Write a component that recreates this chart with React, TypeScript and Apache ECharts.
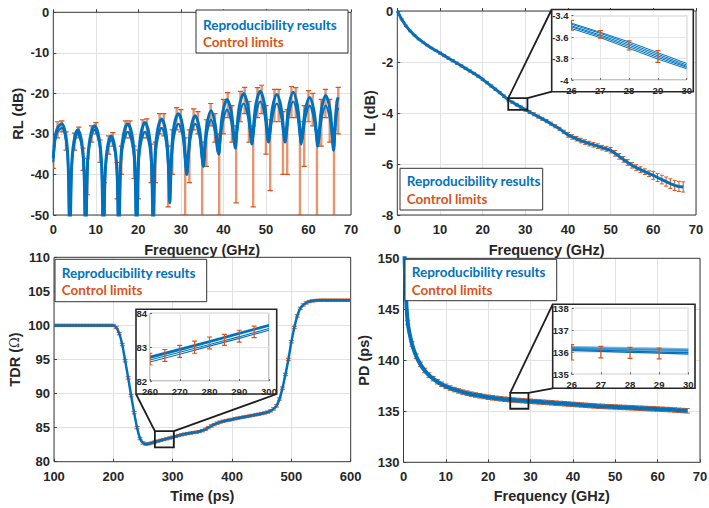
import React, { useEffect, useRef } from "react";
import * as echarts from "echarts";

const BLUE = "#0072BD";
const ORANGE = "#D95319";
const FONT = "Liberation Sans";
const LEG_FONT = "Lato";
const W = 709;
const H = 508;

// ---------------- RL (return loss) ----------------
const rlFreq = [0, 0.4, 1, 2, 2.95, 3.5, 3.9,
  4.27, 4.83, 5.75, 6.68, 7.23, 7.6,
  8.02, 8.65, 9.7, 10.75, 11.38, 11.8,
  12.16, 12.7, 13.6, 14.5, 15.04, 15.4,
  15.82, 16.45, 17.5, 18.55, 19.18, 19.6,
  19.99, 20.58, 21.55, 22.53, 23.11, 23.5,
  23.89, 24.48, 25.45, 26.43, 27.01, 27.4,
  27.8, 28.4, 29.4, 30.4, 31, 31.4,
  31.79, 32.38, 33.35, 34.33, 34.91, 35.3,
  35.66, 36.2, 37.1, 38, 38.54, 38.9,
  39.29, 39.88, 40.85, 41.83, 42.41, 42.8,
  43.19, 43.78, 44.75, 45.73, 46.31, 46.7,
  47.09, 47.68, 48.65, 49.63, 50.21, 50.6,
  50.99, 51.58, 52.55, 53.53, 54.11, 54.5,
  54.88, 55.45, 56.4, 57.35, 57.92, 58.3,
  58.69, 59.28, 60.25, 61.23, 61.81, 62.2,
  62.57, 63.13, 64.05, 64.98, 65.53, 65.9,
  66.3, 66.7, 67];
const rlVal = [-36, -31, -28.5, -27.5, -30.5, -37.5, -60,
  -39, -32, -29, -32, -39, -60,
  -38, -31, -28, -31, -38, -60,
  -40.5, -33.5, -30.5, -33.5, -40.5, -60,
  -37.5, -30.5, -27.5, -30.5, -37.5, -58,
  -37.2, -30.2, -27.2, -30.2, -37.2, -56,
  -36.3, -29.3, -26.3, -29.3, -36.3, -47,
  -35, -28, -25, -28, -35, -40,
  -34.5, -28.5, -25.5, -28.5, -34, -38,
  -32.5, -27.3, -24.3, -27.3, -32, -35,
  -30, -24.5, -21.5, -24.5, -30, -33.5,
  -28.5, -23, -20, -23, -28.5, -32.5,
  -28, -22.5, -19.5, -22.5, -28, -32,
  -28.5, -23.3, -20.3, -23.3, -28.5, -32,
  -28, -22.7, -19.7, -22.7, -28, -32.5,
  -29, -24, -21, -24, -29, -33,
  -29, -23.5, -20.5, -23.5, -29, -34,
  -27, -22, -21];
const rlVal2 = [-37, -32, -29.5, -28.5, -31.5, -38.5, -60,
  -40, -33, -30, -33, -40, -60,
  -39, -32, -29, -32, -39, -60,
  -41.5, -34.5, -31.5, -34.5, -41.5, -60,
  -39, -32.5, -29.5, -32.5, -39, -58,
  -39, -32.5, -29.5, -32.5, -39, -56,
  -38, -31.5, -28.5, -31.5, -38, -45,
  -37, -30.5, -27.5, -30.5, -37, -40,
  -36, -30.5, -27.5, -30.5, -36, -38,
  -34, -29.5, -26.5, -29.5, -34, -35,
  -31.5, -27, -24, -27, -31.5, -33,
  -30, -25.5, -22.5, -25.5, -30, -32,
  -30, -25, -22, -25, -30, -32,
  -30, -25.5, -22.5, -25.5, -30, -32,
  -30, -25, -22, -25, -30, -32,
  -30.5, -26, -23, -26, -30.5, -33,
  -30.5, -26, -23, -26, -30.5, -34,
  -29, -24.5, -23.5];
// control limits at 0..67 GHz
const rlErrLow = [-38.5, -31, -29.5, -34, -55, -34, -31, -39, -45, -32,
  -30, -37, -52, -35, -33, -46, -40, -31, -31, -41,
  -46, -31, -31, -42, -42, -30, -30.5, -48, -40, -29,
  -29.5, -50, -42, -29, -30, -52, -38, -28, -32, -50,
  -30, -26, -32, -47, -27, -25, -32, -48, -26, -25,
  -35, -44, -27, -27, -40, -40, -26, -26, -50, -38,
  -27, -28, -52, -33, -26, -32, -52, -30];
const rlErrHigh = [-33, -27, -26.8, -29.5, -40, -29.8, -28.3, -33.5, -36, -28,
  -27.2, -31.5, -42, -30.5, -29.7, -37, -33, -26.8, -26.8, -33,
  -34, -26.5, -26.3, -32.5, -32, -25, -25, -33, -29, -23.5,
  -24, -31, -29, -23.8, -24.5, -32, -26.5, -22.5, -25, -30,
  -21.5, -19.8, -23, -28, -19.5, -18.5, -22, -28, -18.6, -18,
  -23, -26.5, -19, -19, -24.5, -24, -18.3, -18.6, -27, -23,
  -19.3, -20, -29, -21.5, -19, -21.5, -29, -18.5];

// ---------------- IL (insertion loss) at 0..67 GHz ----------------
const ilVal = [0, -0.32, -0.58, -0.78, -0.95, -1.1, -1.22, -1.34, -1.45, -1.55,
  -1.65, -1.75, -1.85, -1.95, -2.05, -2.15, -2.25, -2.35, -2.45, -2.56,
  -2.68, -2.81, -2.94, -3.07, -3.2, -3.34, -3.49, -3.58, -3.68, -3.77,
  -3.87, -3.96, -4.05, -4.14, -4.23, -4.32, -4.42, -4.52, -4.62, -4.74,
  -4.86, -4.94, -5.01, -5.08, -5.14, -5.2, -5.25, -5.3, -5.36, -5.41,
  -5.46, -5.58, -5.7, -5.82, -5.94, -6.05, -6.14, -6.22, -6.3, -6.38,
  -6.45, -6.53, -6.61, -6.69, -6.77, -6.84, -6.88, -6.9];
const ilErr = [0.03, 0.03, 0.03, 0.03, 0.03, 0.03, 0.03, 0.03, 0.03, 0.03,
  0.045, 0.045, 0.045, 0.045, 0.045, 0.045, 0.045, 0.045, 0.045, 0.045,
  0.045, 0.045, 0.045, 0.045, 0.045, 0.045, 0.045, 0.045, 0.045, 0.045,
  0.06, 0.06, 0.06, 0.06, 0.06, 0.06, 0.06, 0.06, 0.06, 0.06,
  0.09, 0.09, 0.09, 0.09, 0.09, 0.09, 0.09, 0.09, 0.09, 0.09,
  0.11, 0.11, 0.11, 0.11, 0.11, 0.11, 0.11, 0.11, 0.11, 0.11,
  0.15, 0.16, 0.17, 0.18, 0.19, 0.2, 0.2, 0.2];
const ilZoomBox = [26, 30.5, -3.88, -3.42];
const ilInsetFreq = [26, 27, 28, 29, 30];
const ilInsetLines = [
  [-3.47, -3.555, -3.645, -3.745, -3.845],
  [-3.48, -3.565, -3.66, -3.76, -3.86],
  [-3.495, -3.58, -3.675, -3.775, -3.872],
  [-3.505, -3.592, -3.69, -3.79, -3.882],
  [-3.52, -3.605, -3.705, -3.805, -3.895],
];
const ilInsetErrFreq = [26, 27, 28, 29];
const ilInsetErrLow = [-3.535, -3.61, -3.72, -3.835];
const ilInsetErrHigh = [-3.445, -3.54, -3.635, -3.725];

// ---------------- TDR at 100..600 ps, step 5 ----------------
const tdrVal = [100, 100, 100, 100, 100, 100, 100, 100, 100, 100,
  100, 100, 100, 100, 100, 100, 100, 100, 100, 100, 100,
  99.7, 98.8, 97.2, 94.8, 92.3, 89.7, 87.2, 85.0, 83.4, 82.75,
  82.58, 82.64, 82.76, 82.89, 83.02, 83.14, 83.25, 83.36, 83.48, 83.6,
  83.72, 83.84, 83.95, 84.05, 84.13, 84.2, 84.27, 84.34, 84.42, 84.55,
  84.75, 85.0, 85.25, 85.45, 85.65, 85.8, 85.93, 86.03, 86.12, 86.2,
  86.3, 86.4, 86.48, 86.56, 86.64, 86.72, 86.8, 86.88, 86.97, 87.06,
  87.16, 87.28, 87.45, 87.75, 88.2, 89.2, 90.8, 92.8, 95.0, 97.6,
  99.7, 101.4, 102.5, 103.0, 103.3, 103.5, 103.6, 103.65, 103.68, 103.7,
  103.7, 103.7, 103.7, 103.7, 103.7, 103.7, 103.7, 103.7, 103.7, 103.7];
const tdrErr = 0.17;
const tdrZoomBox = [270, 302, 82.1, 84.5];
const tdrInsetTime = [260, 270, 280, 290, 300];
const tdrInsetLines = [
  [82.72, 82.95, 83.18, 83.42, 83.66],
  [82.68, 82.91, 83.15, 83.39, 83.63],
  [82.62, 82.85, 83.08, 83.31, 83.55],
  [82.56, 82.79, 83.03, 83.26, 83.5],
];
const tdrInsetErrTime = [260, 265, 270, 275, 280, 285, 290, 295];
const tdrInsetErrLow = [82.48, 82.58, 82.7, 82.82, 82.95, 83.05, 83.15, 83.28];
const tdrInsetErrHigh = [82.82, 82.93, 83.05, 83.18, 83.3, 83.38, 83.5, 83.62];

// ---------------- PD (propagation delay) ----------------
const pdLeadFreq = [0.15, 0.45];
const pdLeadVal = [152, 147.6];
// at 1..67 GHz
const pdVal = [143.7, 141.6, 140.4, 139.6, 139.0, 138.55, 138.2, 137.9, 137.65, 137.45,
  137.28, 137.13, 137.0, 136.88, 136.78, 136.68, 136.6, 136.52, 136.45, 136.38,
  136.32, 136.27, 136.22, 136.18, 136.14, 136.1, 136.07, 136.04, 136.01, 135.98,
  135.95, 135.92, 135.89, 135.86, 135.83, 135.8, 135.77, 135.74, 135.71, 135.68,
  135.65, 135.62, 135.59, 135.56, 135.53, 135.5, 135.48, 135.46, 135.44, 135.42,
  135.4, 135.38, 135.36, 135.34, 135.32, 135.3, 135.28, 135.26, 135.24, 135.22,
  135.2, 135.18, 135.16, 135.13, 135.1, 135.07, 135.05];
const pdErr = 0.22;
const pdZoomBox = [25.2, 29.5, 135.25, 136.8];
const pdInsetFreq = [26, 27, 28, 29, 30];
const pdInsetLines = [
  [136.22, 136.2, 136.17, 136.15, 136.12],
  [136.17, 136.14, 136.11, 136.08, 136.06],
  [136.12, 136.09, 136.05, 136.01, 135.98],
  [136.08, 136.04, 136.0, 135.96, 135.92],
];
const pdInsetErrFreq = [26, 27, 28, 29];
const pdInsetErrLow = [135.65, 135.75, 135.72, 135.7];
const pdInsetErrHigh = [136.35, 136.27, 136.22, 136.19];

const LEGEND_TEXT = ["Reproducibility results", "Control limits"];

// ---------------- layout ----------------
const gridRL = { left: 53.3, top: 12.3, width: 297.7, height: 202.7 };
const gridIL = { left: 397.3, top: 11, width: 298.7, height: 204 };
const gridTDR = { left: 54, top: 257.3, width: 296.7, height: 204.4 };
const gridPD = { left: 403.5, top: 258.3, width: 296.5, height: 204 };
const insIL = { left: 571.5, top: 15.7, width: 115.2, height: 64.3 };
const insTDR = { left: 150, top: 313.3, width: 119, height: 67.7 };
const insPD = { left: 571.7, top: 308.3, width: 116.6, height: 66 };
const boxIL = { x: 551.7, y: 9.5, w: 141.6, h: 82.2 };
const boxTDR = { x: 136, y: 309.3, w: 140.7, h: 84.7 };
const boxPD = { x: 552.7, y: 304.3, w: 142.3, h: 84 };

function buildOption() {
  const tickText = { fontFamily: FONT, fontWeight: "bold", fontSize: 13, color: "#262626" };
  const nameText = { fontFamily: FONT, fontWeight: "bold", fontSize: 14.5, color: "#262626" };
  const insetText = { fontFamily: FONT, fontWeight: "bold", fontSize: 9.5, color: "#262626" };

  const mainGrid = (g: any) => ({
    ...g, show: true, borderColor: "#3c3c3c", borderWidth: 1, backgroundColor: "transparent",
    containLabel: false, outerBoundsMode: "none", z: 2,
  });
  const insetGrid = (g: any) => ({
    ...g, show: true, borderColor: "#8a8a8a", borderWidth: 1, backgroundColor: "transparent",
    containLabel: false, outerBoundsMode: "none", z: 6,
  });

  const mainX = (gi: number, min: number, max: number, interval: number, name: string, gap: number) => ({
    type: "value", gridIndex: gi, min, max, interval, name, nameLocation: "middle", nameGap: gap,
    nameTextStyle: nameText,
    axisLine: { show: false },
    axisTick: { show: true, inside: true, length: 3, lineStyle: { color: "#404040" } },
    axisLabel: { ...tickText, margin: 8 },
    splitLine: { show: true, lineStyle: { color: "#e2e2e2", width: 1 } },
    z: 0,
  });
  const mainY = (gi: number, min: number, max: number, interval: number, name: any, gap: number, rich?: any) => ({
    type: "value", gridIndex: gi, min, max, interval, name, nameLocation: "middle", nameGap: gap,
    nameRotate: 90,
    nameTextStyle: rich ? { ...nameText, rich } : nameText,
    axisLine: { show: false },
    axisTick: { show: true, inside: true, length: 3, lineStyle: { color: "#404040" } },
    axisLabel: { ...tickText, margin: 4 },
    splitLine: { show: true, lineStyle: { color: "#e2e2e2", width: 1 } },
    z: 0,
  });
  const insetX = (gi: number, min: number, max: number, interval: number) => ({
    type: "value", gridIndex: gi, min, max, interval,
    axisLine: { show: false },
    axisTick: { show: true, inside: true, length: 2, lineStyle: { color: "#666" } },
    axisLabel: { ...insetText, margin: 5 },
    splitLine: { show: true, lineStyle: { color: "#e6e6e6", width: 1 } },
    z: 6,
  });
  const insetY = (gi: number, min: number, max: number, interval: number) => ({
    type: "value", gridIndex: gi, min, max, interval,
    axisLine: { show: false },
    axisTick: { show: true, inside: true, length: 2, lineStyle: { color: "#666" } },
    axisLabel: { ...insetText, margin: 3 },
    splitLine: { show: true, lineStyle: { color: "#e6e6e6", width: 1 } },
    z: 6,
  });

  const errSeries = (ai: number, data: number[][], cap: number, lw: number, z: number, barOpacity = 1, capW = lw) => ({
    type: "custom", xAxisIndex: ai, yAxisIndex: ai, z, clip: true, silent: true,
    data,
    renderItem: (_p: any, api: any) => {
      const x = api.value(0);
      const top = api.coord([x, api.value(2)]);
      const bot = api.coord([x, api.value(1)]);
      const st = { stroke: ORANGE, lineWidth: lw, opacity: barOpacity };
      const cs = { stroke: ORANGE, lineWidth: capW };
      return {
        type: "group",
        children: [
          { type: "line", shape: { x1: top[0], y1: top[1], x2: bot[0], y2: bot[1] }, style: st },
          { type: "line", shape: { x1: top[0] - cap, y1: top[1], x2: top[0] + cap, y2: top[1] }, style: cs },
          { type: "line", shape: { x1: bot[0] - cap, y1: bot[1], x2: bot[0] + cap, y2: bot[1] }, style: cs },
        ],
      };
    },
  });
  const lineSeries = (ai: number, data: number[][], width: number, z: number, smooth: any = false, opacity = 1) => ({
    type: "line", xAxisIndex: ai, yAxisIndex: ai, data, showSymbol: false, symbol: "none",
    smooth, z, silent: true,
    lineStyle: { color: BLUE, width, opacity },
  });
  const zoomSeries = (ai: number, box: number[], c1: number[], c2: number[]) => ({
    type: "custom", xAxisIndex: ai, yAxisIndex: ai, z: 4, clip: false, silent: true,
    data: [box],
    renderItem: (_p: any, api: any) => {
      const tl = api.coord([api.value(0), api.value(3)]);
      const br = api.coord([api.value(1), api.value(2)]);
      const st = { stroke: "#1e1e1e", lineWidth: 1.8, fill: null };
      return {
        type: "group",
        children: [
          { type: "rect", shape: { x: tl[0], y: tl[1], width: br[0] - tl[0], height: br[1] - tl[1] }, style: st },
          { type: "line", shape: { x1: tl[0], y1: tl[1], x2: c1[0], y2: c1[1] }, style: st },
          { type: "line", shape: { x1: br[0], y1: tl[1], x2: c2[0], y2: c2[1] }, style: st },
        ],
      };
    },
  });

  const legend = (x: number, y: number, w: number, h: number, tx: number, y1: number, y2: number) => [
    { type: "rect", shape: { x, y, width: w, height: h }, style: { fill: "#fff", stroke: "#333", lineWidth: 1 }, z: 10 },
    { type: "text", x: tx, y: y1, z: 11, style: { text: LEGEND_TEXT[0], fill: BLUE, fontFamily: LEG_FONT, fontWeight: "bold", fontSize: 13.5, verticalAlign: "middle" } },
    { type: "text", x: tx, y: y2, z: 11, style: { text: LEGEND_TEXT[1], fill: ORANGE, fontFamily: LEG_FONT, fontWeight: "bold", fontSize: 13.5, verticalAlign: "middle" } },
  ];
  const insetBox = (b: any) => ({
    type: "rect", shape: { x: b.x, y: b.y, width: b.w, height: b.h },
    style: { fill: "#fff", stroke: "#262626", lineWidth: 1.6 }, z: 5,
  });

  const intFreq = ilVal.map((_, i) => i);
  const tdrTime = tdrVal.map((_, i) => 100 + 5 * i);
  const pdFreq = pdVal.map((_, i) => i + 1);

  const series: any[] = [
    // RL
    errSeries(0, intFreq.map((f, i) => [f, rlErrLow[i], rlErrHigh[i]]), 2.6, 2.4, 2, 0.62, 1.2),
    lineSeries(0, rlFreq.map((f, i) => [f, rlVal2[i]]), 2.2, 3, 0.35),
    lineSeries(0, rlFreq.map((f, i) => [f, rlVal[i]]), 3, 3, 0.35),
    // IL main
    errSeries(1, intFreq.map((f, i) => [f, ilVal[i] - ilErr[i], ilVal[i] + ilErr[i]]), 2, 1, 2),
    lineSeries(1, intFreq.map((f, i) => [f, ilVal[i]]), 3, 3),
    zoomSeries(1, ilZoomBox, [boxIL.x, boxIL.y], [boxIL.x, boxIL.y + boxIL.h]),
    // IL inset
    ...ilInsetLines.map((arr) => lineSeries(2, ilInsetFreq.map((f, i) => [f, arr[i]]), 1, 7)),
    errSeries(2, ilInsetErrFreq.map((f, i) => [f, ilInsetErrLow[i], ilInsetErrHigh[i]]), 2.5, 1.2, 8),
    // TDR main
    errSeries(3, tdrTime.map((t, i) => [t, tdrVal[i] - tdrErr, tdrVal[i] + tdrErr]), 2.5, 1, 2),
    lineSeries(3, tdrTime.map((t, i) => [t, tdrVal[i]]), 2.5, 3, 0.2),
    zoomSeries(3, tdrZoomBox, [boxTDR.x, boxTDR.y + boxTDR.h], [boxTDR.x + boxTDR.w, boxTDR.y + boxTDR.h]),
    // TDR inset
    ...tdrInsetLines.map((arr, k) => lineSeries(4, tdrInsetTime.map((t, i) => [t, arr[i]]), k < 2 ? 1.8 : 1.1, 7)),
    errSeries(4, tdrInsetErrTime.map((t, i) => [t, tdrInsetErrLow[i], tdrInsetErrHigh[i]]), 2.5, 1.2, 8),
    // PD main
    errSeries(5, pdFreq.map((f, i) => [f, pdVal[i] - pdErr, pdVal[i] + pdErr]), 2.5, 1, 2),
    lineSeries(5, [...pdLeadFreq.map((f, i) => [f, pdLeadVal[i]]), ...pdFreq.map((f, i) => [f, pdVal[i]])], 4, 3, 0.3),
    zoomSeries(5, pdZoomBox, [boxPD.x, boxPD.y], [boxPD.x, boxPD.y + boxPD.h]),
    // PD inset
    ...pdInsetLines.map((arr, k) => lineSeries(6, pdInsetFreq.map((f, i) => [f, arr[i]]), k < 2 ? 3 : 1.3, 7, false, k < 2 ? 0.55 : 1)),
    errSeries(6, pdInsetErrFreq.map((f, i) => [f, pdInsetErrLow[i], pdInsetErrHigh[i]]), 2.5, 1.2, 8),
  ];

  return {
    animation: false,
    backgroundColor: "#fff",
    grid: [
      mainGrid(gridRL), mainGrid(gridIL), insetGrid(insIL),
      mainGrid(gridTDR), insetGrid(insTDR), mainGrid(gridPD), insetGrid(insPD),
    ],
    xAxis: [
      mainX(0, 0, 70, 10, "Frequency (GHz)", 27),
      mainX(1, 0, 70, 10, "Frequency (GHz)", 27),
      insetX(2, 26, 30, 1),
      mainX(3, 100, 600, 100, "Time (ps)", 26.5),
      insetX(4, 260, 300, 10),
      mainX(5, 0, 70, 10, "Frequency (GHz)", 26),
      insetX(6, 26, 30, 1),
    ],
    yAxis: [
      mainY(0, -50, 0, 10, "RL (dB)", 28),
      mainY(1, -8, 0, 2, "IL (dB)", 20),
      insetY(2, -4, -3.4, 0.2),
      mainY(3, 80, 110, 5, "TDR ({o|Ω})", 32, { o: { fontFamily: "DejaVu Serif", fontSize: 13, fontWeight: "normal", color: "#262626" } }),
      insetY(4, 82, 84, 1),
      mainY(5, 130, 150, 5, "PD (ps)", 32),
      insetY(6, 135, 138, 1),
    ],
    graphic: {
      elements: [
        insetBox(boxIL), insetBox(boxTDR), insetBox(boxPD),
        ...legend(196, 10, 152, 43, 203, 24.5, 41.7),
        ...legend(400, 168.3, 142.7, 41.7, 406.7, 181, 199),
        ...legend(55, 259.3, 151.7, 42.4, 61.7, 272.7, 290),
        ...legend(405, 259.3, 151.7, 41.4, 411.7, 271.7, 290),
      ],
    },
    series,
  };
}

export default function App() {
  const ref = useRef<HTMLDivElement>(null);
  useEffect(() => {
    document.body.style.margin = "0";
    const chart = echarts.init(ref.current as HTMLDivElement, null, { renderer: "svg", width: W, height: H });
    chart.setOption(buildOption() as any);
    return () => chart.dispose();
  }, []);
  return <div ref={ref} style={{ width: W, height: H }} />;
}
